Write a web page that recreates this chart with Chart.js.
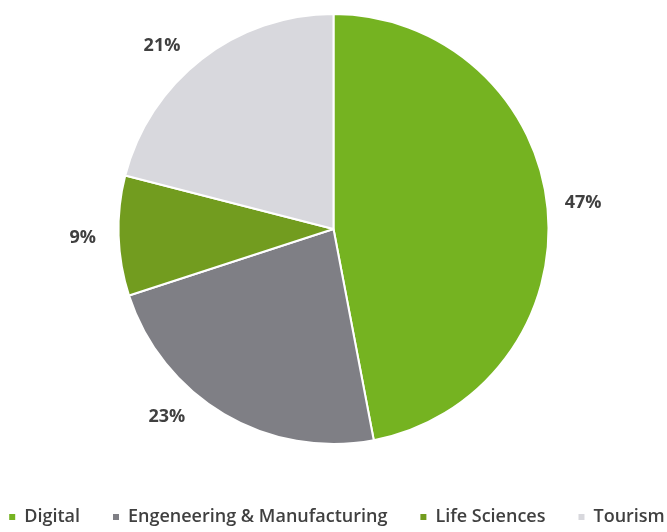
<!DOCTYPE html>
<html>
<head>
<meta charset="utf-8">
<script src="https://cdn.jsdelivr.net/npm/chart.js@4.4.1/dist/chart.umd.min.js"></script>
<style>
  html, body { margin: 0; padding: 0; background: #ffffff; }
  #wrap { width: 667px; height: 532px; position: relative; }
</style>
</head>
<body>
<div id="wrap"><canvas id="chart" width="667" height="532"></canvas></div>
<script>
// Sector shares (percent)
const sectors = ['Digital', 'Engeneering & Manufacturing', 'Life Sciences', 'Tourism'];
const shares = [47, 23, 9, 21];
const sectorColors = ['#75b321', '#7f7f85', '#729c1f', '#d8d8dd'];

// Small angular nudges (degrees) for the outside percentage labels
const labelNudge = [-0.5, 11, -0.3, -5.3];

const FONT = "'Open Sans', Lato, 'DejaVu Sans', sans-serif";

// Percentage labels drawn just outside each slice
const outsideLabels = {
  id: 'outsideLabels',
  afterDatasetsDraw(chart) {
    const { ctx } = chart;
    const meta = chart.getDatasetMeta(0);
    ctx.save();
    ctx.font = 'bold 18px ' + FONT;
    ctx.fillStyle = '#404040';
    ctx.textAlign = 'center';
    ctx.textBaseline = 'middle';
    meta.data.forEach((arc, i) => {
      const p = arc.getProps(['x', 'y', 'startAngle', 'endAngle', 'outerRadius'], true);
      const mid = (p.startAngle + p.endAngle) / 2 + labelNudge[i] * Math.PI / 180;
      const r = p.outerRadius + 36;
      ctx.fillText(shares[i] + '%', p.x + Math.cos(mid) * r, p.y + Math.sin(mid) * r);
    });
    ctx.restore();
  }
};

new Chart(document.getElementById('chart'), {
  type: 'pie',
  data: {
    labels: sectors,
    datasets: [{
      data: shares,
      backgroundColor: sectorColors,
      borderColor: '#ffffff',
      borderWidth: 2
    }]
  },
  options: {
    responsive: false,
    animation: false,
    radius: 215,
    layout: { padding: { top: 0, left: -42, right: -49, bottom: -4 } },
    plugins: {
      tooltip: { enabled: false },
      legend: {
        position: 'bottom',
        // empty title just reserves a little space above the legend row
        title: { display: true, text: '', font: { size: 17, lineHeight: 1 }, padding: 0 },
        labels: {
          boxWidth: 6,
          boxHeight: 6,
          padding: 33,
          color: '#404040',
          font: { family: FONT, size: 18, weight: '600' },
          generateLabels(chart) {
            const items = Chart.overrides.pie.plugins.legend.labels.generateLabels(chart);
            items.forEach(it => { it.lineWidth = 0; it.strokeStyle = it.fillStyle; });
            return items;
          }
        }
      }
    }
  },
  plugins: [outsideLabels]
});
</script>
</body>
</html>
